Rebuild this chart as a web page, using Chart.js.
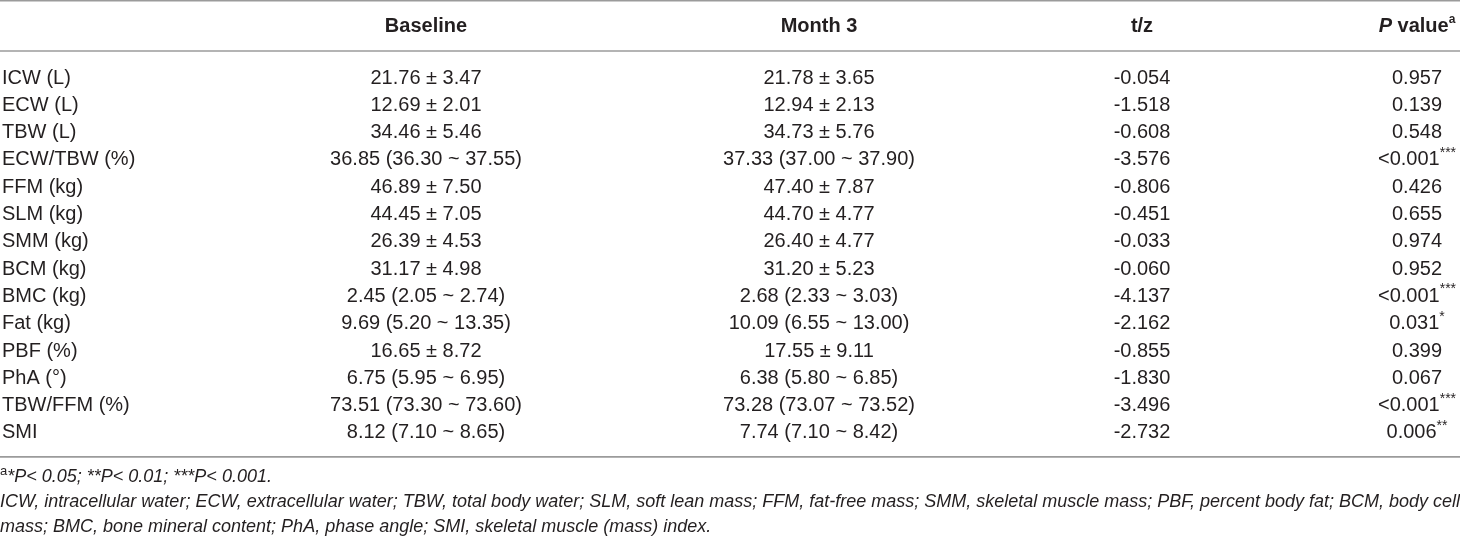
<!DOCTYPE html>
<html>
<head>
<meta charset="utf-8">
<script src="https://cdn.jsdelivr.net/npm/chart.js@4.4.1/dist/chart.umd.min.js"></script>
<style>
  html, body { margin: 0; padding: 0; background: #ffffff; }
  #wrap { width: 1460px; height: 539px; position: relative; }
</style>
</head>
<body>
<div id="wrap"><canvas id="c"></canvas></div>
<script>
// ---------- DATA ----------
const columnHeaders = ["", "Baseline", "Month 3", "t/z", "P value"];
const rowLabels = ["ICW (L)", "ECW (L)", "TBW (L)", "ECW/TBW (%)", "FFM (kg)", "SLM (kg)", "SMM (kg)",
  "BCM (kg)", "BMC (kg)", "Fat (kg)", "PBF (%)", "PhA (°)", "TBW/FFM (%)", "SMI"];
const baselineValues = ["21.76 ± 3.47", "12.69 ± 2.01", "34.46 ± 5.46", "36.85 (36.30 ~ 37.55)",
  "46.89 ± 7.50", "44.45 ± 7.05", "26.39 ± 4.53", "31.17 ± 4.98", "2.45 (2.05 ~ 2.74)",
  "9.69 (5.20 ~ 13.35)", "16.65 ± 8.72", "6.75 (5.95 ~ 6.95)", "73.51 (73.30 ~ 73.60)", "8.12 (7.10 ~ 8.65)"];
const month3Values = ["21.78 ± 3.65", "12.94 ± 2.13", "34.73 ± 5.76", "37.33 (37.00 ~ 37.90)",
  "47.40 ± 7.87", "44.70 ± 4.77", "26.40 ± 4.77", "31.20 ± 5.23", "2.68 (2.33 ~ 3.03)",
  "10.09 (6.55 ~ 13.00)", "17.55 ± 9.11", "6.38 (5.80 ~ 6.85)", "73.28 (73.07 ~ 73.52)", "7.74 (7.10 ~ 8.42)"];
const tzValues = [-0.054, -1.518, -0.608, -3.576, -0.806, -0.451, -0.033, -0.060, -4.137, -2.162,
  -0.855, -1.830, -3.496, -2.732];
const pValues = ["0.957", "0.139", "0.548", "<0.001", "0.426", "0.655", "0.974", "0.952", "<0.001",
  "0.031", "0.399", "0.067", "<0.001", "0.006"];
const pStars = ["", "", "", "***", "", "", "", "", "***", "*", "", "", "***", "**"];
const footnoteLegend = "ICW, intracellular water; ECW, extracellular water; TBW, total body water; SLM, soft lean mass; FFM, fat-free mass; SMM, skeletal muscle mass; PBF, percent body fat; BCM, body cell|mass; BMC, bone mineral content; PhA, phase angle; SMI, skeletal muscle (mass) index.";

// ---------- LAYOUT (positions / styles, not data) ----------
const FONT = '"Liberation Sans", Arial, Helvetica, sans-serif';
const TEXT_COLOR = '#231f20';
const RULE_COLOR = '#9b9b9b';
const BODY_SIZE = 20;
const NOTE_SIZE = 18;
const colAnchor = [2, 426, 819, 1142, 1417];
const colAlign  = ['left', 'center', 'center', 'center', 'center'];
const Y_HEADER = -1.87, Y_TOP_RULE = -2.83, Y_HEAD_RULE = -0.99, Y_BOTTOM_RULE = 13.88;
const Y_NOTES = [14.62, 15.54, 16.45];

function font(size, bold, italic) {
  return (italic ? 'italic ' : '') + (bold ? 'bold ' : '') + size + 'px ' + FONT;
}

function drawRich(ctx, segs, x, y, align, size) {
  let total = 0;
  const prepared = segs.map(s => {
    const fs = s.sup ? Math.round(size * (s.supScale || 0.62)) : size;
    const f = font(fs, s.bold, s.italic);
    ctx.font = f;
    const w = ctx.measureText(s.text).width;
    total += w;
    return { s, f, w, fs };
  });
  let cx = align === 'center' ? x - total / 2 : (align === 'right' ? x - total : x);
  ctx.textBaseline = 'middle';
  ctx.textAlign = 'left';
  for (const p of prepared) {
    ctx.font = p.f;
    ctx.fillStyle = TEXT_COLOR;
    const dy = p.s.sup ? -size * 0.34 : 0;
    ctx.fillText(p.s.text, cx, y + dy);
    cx += p.w;
  }
}

const tablePlugin = {
  id: 'tablePlugin',
  afterDraw(chart) {
    const ctx = chart.ctx;
    const xs = chart.scales.x, ys = chart.scales.y;
    const X = v => xs.getPixelForValue(v);
    const Y = v => ys.getPixelForValue(v);
    ctx.save();
    ctx.strokeStyle = RULE_COLOR;
    ctx.lineWidth = 1.6;
    [Y_TOP_RULE, Y_HEAD_RULE, Y_BOTTOM_RULE].forEach(v => {
      ctx.beginPath();
      ctx.moveTo(xs.left, Y(v));
      ctx.lineTo(xs.right, Y(v));
      ctx.stroke();
    });
    for (let j = 1; j < columnHeaders.length; j++) {
      let segs;
      if (j === 4) {
        segs = [{ text: 'P', bold: true, italic: true }, { text: ' value', bold: true }, { text: 'a', bold: true, sup: true }];
      } else {
        segs = [{ text: columnHeaders[j], bold: true }];
      }
      drawRich(ctx, segs, X(colAnchor[j]), Y(Y_HEADER), colAlign[j], BODY_SIZE);
    }
    for (let i = 0; i < rowLabels.length; i++) {
      const y = Y(i);
      drawRich(ctx, [{ text: rowLabels[i] }], X(colAnchor[0]), y, colAlign[0], BODY_SIZE);
      drawRich(ctx, [{ text: baselineValues[i] }], X(colAnchor[1]), y, colAlign[1], BODY_SIZE);
      drawRich(ctx, [{ text: month3Values[i] }], X(colAnchor[2]), y, colAlign[2], BODY_SIZE);
      drawRich(ctx, [{ text: tzValues[i].toFixed(3) }], X(colAnchor[3]), y, colAlign[3], BODY_SIZE);
      const pSegs = [{ text: pValues[i] }];
      if (pStars[i]) pSegs.push({ text: pStars[i], sup: true, supScale: 0.72 });
      drawRich(ctx, pSegs, X(colAnchor[4]), y, colAlign[4], BODY_SIZE);
    }
    drawRich(ctx, [
      { text: 'a', sup: true, supScale: 0.7 }, { text: '*', italic: true },
      { text: 'P< 0.05; ', italic: true }, { text: '**', italic: true },
      { text: 'P< 0.01; ', italic: true }, { text: '***', italic: true },
      { text: 'P< 0.001.', italic: true }
    ], X(0), Y(Y_NOTES[0]), 'left', NOTE_SIZE);
    footnoteLegend.split('|').forEach((ln, k) => {
      drawRich(ctx, [{ text: ln, italic: true }], X(0), Y(Y_NOTES[k + 1]), 'left', NOTE_SIZE);
    });
    ctx.restore();
  }
};

new Chart(document.getElementById('c'), {
  type: 'scatter',
  data: { datasets: [{ data: [], pointRadius: 0 }] },
  options: {
    responsive: true,
    maintainAspectRatio: false,
    animation: false,
    layout: { padding: 0 },
    plugins: { legend: { display: false }, tooltip: { enabled: false }, title: { display: false } },
    scales: {
      x: { type: 'linear', min: 0, max: 1460, display: false },
      y: { type: 'linear', reverse: true, min: -78 / 27.3, max: (539 - 78) / 27.3, display: false }
    }
  },
  plugins: [tablePlugin]
});
</script>
</body>
</html>
